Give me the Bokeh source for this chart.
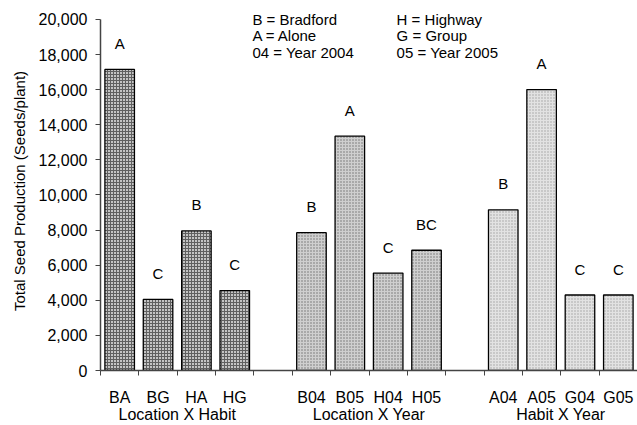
from bokeh.plotting import figure
from bokeh.models import FixedTicker, NumeralTickFormatter, Range1d, ColumnDataSource, LinearAxis
from bokeh.core.properties import value
from bokeh.embed import file_html
from bokeh.resources import INLINE

categories = ["BA", "BG", "HA", "HG", "B04", "B05", "H04", "H05", "A04", "A05", "G04", "G05"]
seeds = [17150, 4050, 7950, 4550, 7850, 13350, 5550, 6850, 9150, 16000, 4300, 4300]
letters = ["A", "C", "B", "C", "B", "A", "C", "BC", "B", "A", "C", "C"]
group_of = [0, 0, 0, 0, 1, 1, 1, 1, 2, 2, 2, 2]
groups = ["Location X Habit", "Location X Year", "Habit X Year"]
y_ticks = list(range(0, 20001, 2000))
legend_left = ["B = Bradford", "A = Alone", "04 = Year 2004"]
legend_right = ["H = Highway", "G = Group", "05 = Year 2005"]

FONT = "Liberation Sans"
FS = "15px"
FS_TICK = "16px"

# slot layout: 4 bars per group, one empty slot between groups
xs = [i + g + 0.5 for i, g in enumerate(group_of)]
n_slots = len(categories) + len(groups) - 1
group_centers = [sum(x for x, g in zip(xs, group_of) if g == k) / group_of.count(k) for k in range(len(groups))]

p = figure(width=637, height=425, output_backend="svg", toolbar_location=None,
           x_range=Range1d(0, n_slots), y_range=Range1d(0, 20450),
           min_border_left=100, min_border_right=0, min_border_top=11, min_border_bottom=54)
p.xgrid.visible = False
p.ygrid.visible = False
p.outline_line_color = None
p.background_fill_color = "white"
p.border_fill_color = "white"

styles = [
    dict(fill_color="#c4c4c4", hatch_pattern="+", hatch_color="#606060", hatch_scale=3, hatch_weight=1),
    dict(fill_color="#cfcfcf", hatch_pattern=".", hatch_color="#707070", hatch_scale=3, hatch_weight=1),
    dict(fill_color="#e2e2e2", hatch_pattern=".", hatch_color="#a0a0a0", hatch_scale=3, hatch_weight=1),
]
for k in range(len(groups)):
    src = ColumnDataSource(dict(
        x=[x for x, g in zip(xs, group_of) if g == k],
        top=[v for v, g in zip(seeds, group_of) if g == k],
        lab=[l for l, g in zip(letters, group_of) if g == k],
    ))
    p.vbar(x="x", top="top", bottom=0, width=0.77, source=src,
           line_color="black", line_width=1.3, **styles[k])
    p.text(x="x", y="top", text="lab", source=src, text_align="center",
           text_baseline="middle", y_offset=-26, text_font_size=FS,
           text_font=value(FONT), text_color="black")

# legend text (inside the frame, above the 20,000 level)
leg_y = [20020, 19075, 18130]
p.text(x=[3.96] * 3, y=leg_y, text=legend_left, text_align="left", text_baseline="middle",
       text_font=value(FONT), text_font_size=FS, text_color="black")
p.text(x=[7.72] * 3, y=leg_y, text=legend_right, text_align="left", text_baseline="middle",
       text_font=value(FONT), text_font_size=FS, text_color="black")

# y axis
ya = p.yaxis[0]
ya.bounds = (0, 20000)
ya.ticker = FixedTicker(ticks=y_ticks)
ya.formatter = NumeralTickFormatter(format="0,0")
ya.major_tick_out = 5
ya.major_tick_in = 0
ya.minor_tick_line_color = None
ya.major_label_standoff = 8
ya.major_label_text_font = FONT
ya.major_label_text_font_size = FS_TICK
ya.major_label_text_color = "black"
ya.axis_line_color = "#444444"
ya.axis_line_width = 1.5
ya.major_tick_line_color = "#444444"
ya.axis_label = "Total Seed Production (Seeds/plant)"
ya.axis_label_text_font = FONT
ya.axis_label_text_font_size = FS
ya.axis_label_text_font_style = "normal"
ya.axis_label_text_color = "black"
ya.axis_label_standoff = 8

# x axis: labels at bar centres, tick marks at slot boundaries
xa = p.xaxis[0]
xa.ticker = FixedTicker(ticks=xs, minor_ticks=list(range(0, n_slots + 1)))
xa.major_label_overrides = {x: c for x, c in zip(xs, categories)}
xa.major_tick_line_color = None
xa.major_tick_out = 0
xa.major_tick_in = 0
xa.minor_tick_out = 5
xa.minor_tick_in = 0
xa.minor_tick_line_color = "#444444"
xa.axis_line_color = "#444444"
xa.axis_line_width = 1.5
xa.major_label_standoff = 13
xa.major_label_text_font = FONT
xa.major_label_text_font_size = FS_TICK
xa.major_label_text_color = "black"

# group names as a second axis below
ga = LinearAxis(ticker=FixedTicker(ticks=group_centers, minor_ticks=[]),
                major_label_overrides={gx: name for gx, name in zip(group_centers, groups)})
ga.axis_line_color = None
ga.major_tick_line_color = None
ga.minor_tick_line_color = None
ga.major_tick_out = 0
ga.major_tick_in = 0
ga.major_label_standoff = -3
ga.major_label_text_font = FONT
ga.major_label_text_font_size = FS_TICK
ga.major_label_text_color = "black"
p.add_layout(ga, "below")

open("out.html", "w").write(file_html(p, INLINE))
